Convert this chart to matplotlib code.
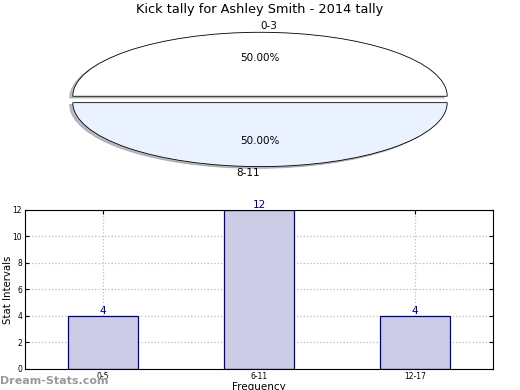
import matplotlib
matplotlib.use("Agg")
import matplotlib.pyplot as plt

# pie data
pie_labels = ["0-3", "8-11"]
pie_values = [50, 50]
pie_colors = ["#ffffff", "#ebf2ff"]

# bar data
bar_labels = ["0-5", "6-11", "12-17"]
bar_values = [4, 12, 4]
y_ticks = [0, 2, 4, 6, 8, 10, 12]

fig = plt.figure(figsize=(5.2, 3.9), dpi=100)

# top: squashed exploded pie
ax1 = fig.add_axes([0.05, 0.54, 0.9, 0.41])
wedges, texts, autotexts = ax1.pie(
    pie_values, labels=pie_labels, colors=pie_colors, explode=[0.05, 0.05],
    autopct="%1.2f%%", pctdistance=0.6, labeldistance=1.1,
    shadow={"ox": -0.012, "oy": -0.02, "shade": 0.5},
    startangle=0, wedgeprops={"edgecolor": "black", "linewidth": 0.6},
    textprops={"fontsize": 7.5},
)
# old-style label alignment: top label starts at centre, bottom one ends there
texts[0].set_ha("left")
texts[1].set_ha("right")
ax1.set_aspect("auto")
ax1.set_xlim(-1.25, 1.25)
ax1.set_ylim(-1.25, 1.25)
fig.text(0.5, 0.958, "Kick tally for Ashley Smith - 2014 tally", ha="center",
         va="bottom", fontsize=9.3)

# bottom: bar chart
ax2 = fig.add_axes([0.048, 0.054, 0.9, 0.408])
x = range(len(bar_values))
bars = ax2.bar(x, bar_values, width=0.45, color="#ccccE6", edgecolor="#000080",
               linewidth=0.9, zorder=2)
for xi, v in zip(x, bar_values):
    ax2.text(xi, v, str(v), ha="center", va="bottom", color="#000080", fontsize=7.5,
             zorder=3)
ax2.set_xlim(-0.5, 2.5)
ax2.set_ylim(0, 12)
ax2.set_xticks(list(x))
ax2.set_xticklabels(bar_labels)
ax2.set_yticks(y_ticks)
ax2.tick_params(labelsize=5.5, direction="in", length=3, top=True, right=True, pad=2)
ax2.grid(True, linestyle=":", color="#bbbbbb", linewidth=0.9, zorder=0)
ax2.set_axisbelow(True)
ax2.set_ylabel("Stat Intervals", fontsize=7.3, labelpad=0)
ax2.set_xlabel("Frequency", fontsize=7.5, labelpad=1)

fig.text(0.0, 0.01, "Dream-Stats.com", color="#999999", fontsize=8, fontweight="bold",
         ha="left", va="bottom")

fig.savefig("out.png", dpi=100)
